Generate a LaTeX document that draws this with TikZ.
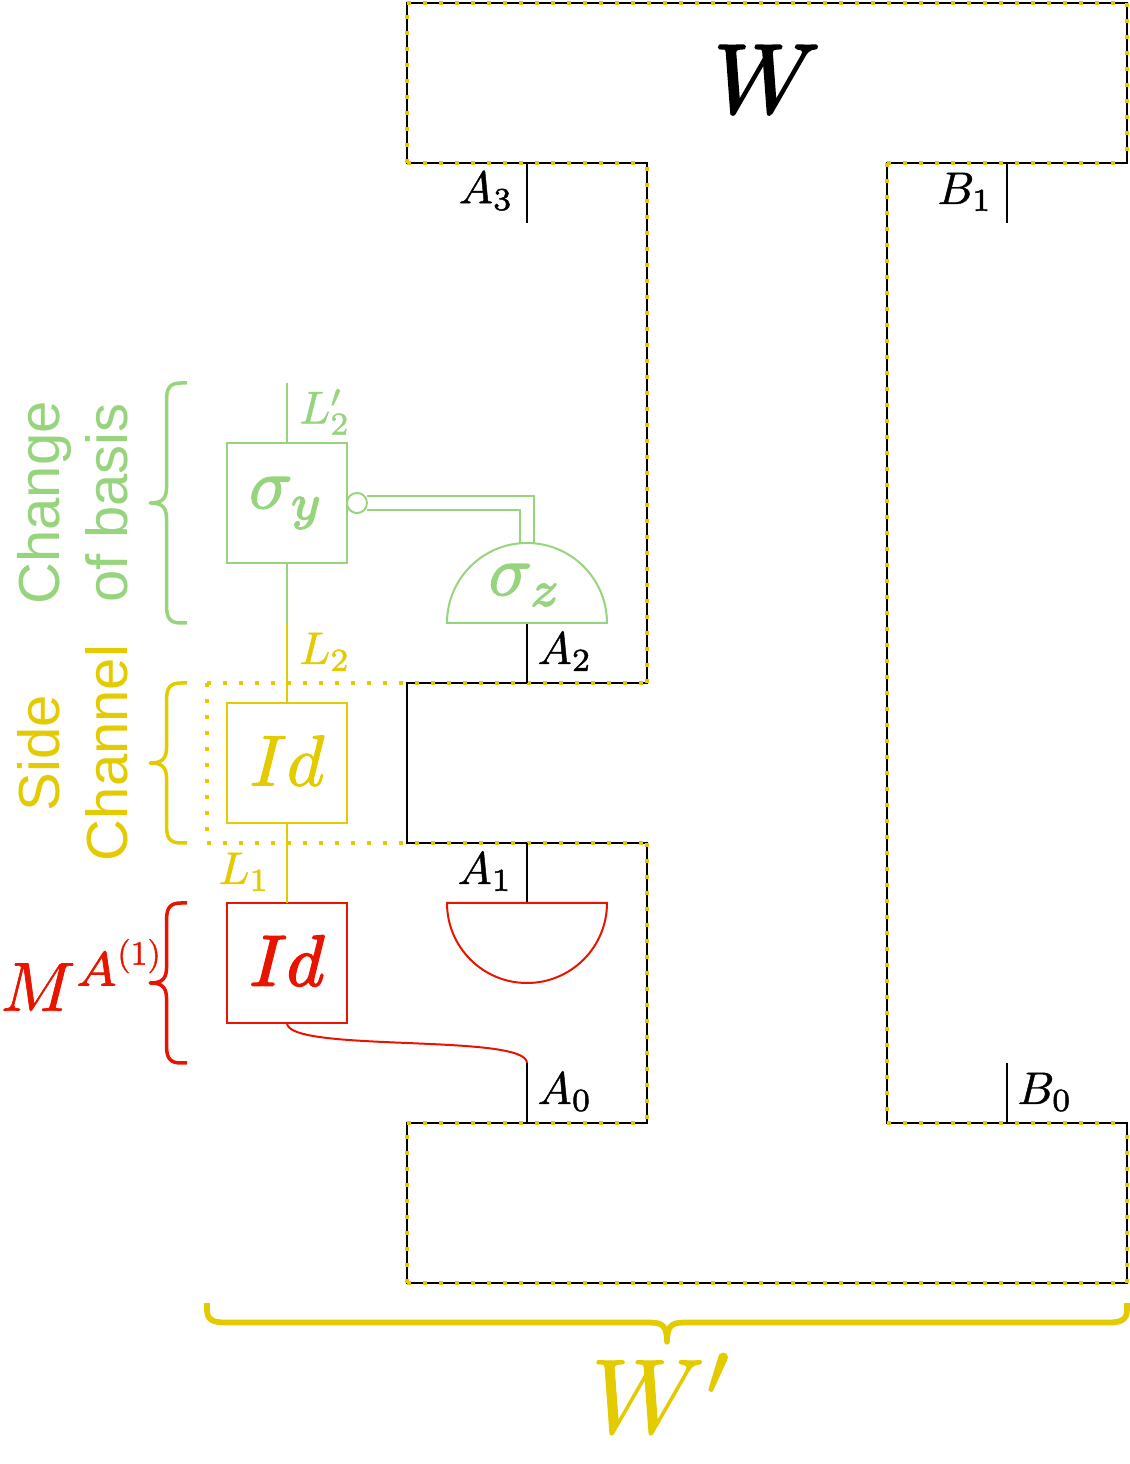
\documentclass[tikz,border=0pt]{standalone}
\usepackage{amsmath}
\usepackage{amssymb}
\usepackage{graphicx}
\usepackage[no-math]{fontspec}
\usepackage{xcolor}
\usepackage{tikz}
\usetikzlibrary{positioning,calc}
\newfontfamily\sidefont{Liberation Sans}
\definecolor{cbasis}{HTML}{97D47E}
\definecolor{cside}{HTML}{E3CB00}
\definecolor{cmeas}{HTML}{E81400}
% scaled formula, slightly stroked: [stroke] scale formula
\newcommand{\mtxt}[3][0.1]{\scalebox{#2}{\special{pdf:code q 2 Tr #1 w}$#3$\special{pdf:code Q}}}
% colour, middle, half height
\newcommand{\sidebrace}[3]{
  \draw[bracegrp,#1] (4.5,{#2-#3}) -- (4.35,{#2-#3}) .. controls (4.1,{#2-#3}) and (3.99,{#2-#3+0.1}) .. (3.99,{#2-#3+0.4})
    -- (3.99,{#2-0.42}) .. controls (3.99,{#2-0.12}) and (3.9,#2) .. (3.58,#2)
    .. controls (3.9,#2) and (3.99,{#2+0.12}) .. (3.99,{#2+0.42})
    -- (3.99,{#2+#3-0.4}) .. controls (3.99,{#2+#3-0.1}) and (4.1,{#2+#3}) .. (4.35,{#2+#3}) -- (4.5,{#2+#3});
}

\begin{document}
\begin{tikzpicture}[
  x=0.8cm,y=0.8cm,
  every node/.style={inner sep=0pt,outer sep=0pt},
  frameline/.style={draw=black,line width=0.04cm},
  dotline/.style={draw=cside,line width=0.08cm,dash pattern=on 0.08cm off 0.24cm},
  wire/.style={line width=0.04cm},
  gatebox/.style={draw,minimum size=2.4cm,line width=0.04cm},
  bracegrp/.style={line width=0.07cm,line join=round},
  sidetxt/.style={rotate=90,align=center,font=\sidefont\fontsize{33}{39}\selectfont}]
\useasboundingbox (-0.175,-4.525) rectangle (28.075,32.075);

% comb outline
\draw[frameline] (10,32) -- (28,32) -- (28,28) -- (22,28) -- (22,4) -- (28,4) -- (28,0) -- (10,0) -- (10,4)
  -- (16,4) -- (16,11) -- (10,11) -- (10,15) -- (16,15) -- (16,28) -- (10,28) -- cycle;
\draw[dotline] (10,28) -- (10,32) -- (28,32) -- (28,28) (10,28) -- (16,28) (16,15) -- (16,28)
  (22,28) -- (28,28) (22,28) -- (22,4) -- (28,4) (28,0) -- (28,4) (10,0) -- (28,0) (10,0) -- (10,4) -- (16,4)
  (16,11) -- (16,4) (5,15) -- (16,15) (5,15) -- (5,11) (5,11) -- (16,11);

% gates
\node[gatebox,draw=cbasis,text=cbasis] (sy) at (7,19.5) {\raisebox{-5.6pt}{\mtxt[0.18]{4.1}{\sigma_y}}};
\node[gatebox,draw=cside,text=cside,below=2.8cm of sy] (idy) {\raisebox{2.8pt}{\mtxt[0.14]{4.1}{Id}}};
\node[gatebox,draw=cmeas,text=cmeas,line width=0.05cm,below=1.6cm of idy] (idr) {\raisebox{2.8pt}{\mtxt[0.25]{4.1}{Id}}};
\node[draw=cbasis,line width=0.036cm,circle,fill=white,minimum size=0.4cm,right=0pt of sy] (sc) {};

% frame ports
\coordinate (a3f) at (13,28);  \coordinate (a3e) at (13,26.5);
\coordinate (b1f) at (25,28);  \coordinate (b1e) at (25,26.5);
\coordinate (a2f) at (13,15);  \coordinate (a2m) at (13,16.5);
\coordinate (a1f) at (13,11);  \coordinate (a1m) at (13,9.5);
\coordinate (a0f) at (13,4);   \coordinate (a0e) at (13,5.5);
\coordinate (b0f) at (25,4);   \coordinate (b0e) at (25,5.5);
\foreach \a/\b in {a3f/a3e,b1f/b1e,a2f/a2m,a1f/a1m,a0f/a0e,b0f/b0e}
  \draw[wire] (\a) -- (\b);

% measurements
\coordinate (mtop) at (13,18.5);
\draw[wire,cbasis,double=white,double distance=0.244cm,line width=0.036cm] (sc) -| (mtop);
\draw[wire,cbasis,fill=white] (11,16.5) arc[start angle=180,end angle=0,radius=1.6cm] -- cycle;
\draw[wire,cmeas] (11,9.5) arc[start angle=180,end angle=360,radius=1.6cm] -- cycle;
\node[draw=cbasis,line width=0.036cm,circle,fill=white,minimum size=0.4cm] (scb) at (sc) {};

% side wires
\coordinate (l2top) at (7,22.5);
\coordinate (l2mid) at (7,16.5);
\draw[wire,cbasis] (l2top) -- (sy);
\draw[wire,cbasis] (sy) -- (l2mid);
\draw[wire,cside] (l2mid) -- (idy);
\draw[wire,cside] (idy) -- (idr);
\draw[wire,cmeas] (idr.south) .. controls ($(idr.south)+(0,-0.75)$) and ($(a0e)+(0,0.75)$) .. (a0e);

% labels
\node (lw) at (19,30.1) {\mtxt[0.22]{5.6}{W}};
\node (la3) at (11.98,27.3) {\mtxt{2.6}{A_3}};
\node (la2) at (13.95,15.78) {\mtxt{2.6}{A_2}};
\node (la1) at (11.95,10.28) {\mtxt{2.6}{A_1}};
\node (la0) at (13.95,4.78) {\mtxt{2.6}{A_0}};
\node (lb1) at (23.95,27.28) {\mtxt{2.6}{B_1}};
\node (lb0) at (25.95,4.78) {\mtxt{2.6}{B_0}};
\node[cbasis] (ll2p) at (7.95,21.78) {\mtxt{2.6}{L_2'}};
\node[cside] (ll2) at (7.95,15.78) {\mtxt{2.6}{L_2}};
\node[cside] (ll1) at (5.93,10.28) {\mtxt{2.6}{L_1}};
\node[cbasis] (lsz) at (12.97,17.45) {\mtxt[0.18]{4.1}{\sigma_z}};

% group braces
\sidebrace{cbasis}{19.5}{3}
\sidebrace{cside}{13}{2}
\sidebrace{cmeas}{7.5}{2}
\draw[bracegrp,cside,line width=0.115cm] (5,-0.5) -- (5,-0.65) .. controls (5,-0.9) and (5.1,-0.99) .. (5.5,-0.99)
  -- (16.1,-0.99) .. controls (16.4,-0.99) and (16.5,-1.1) .. (16.5,-1.47)
  .. controls (16.5,-1.1) and (16.6,-0.99) .. (16.9,-0.99)
  -- (27.5,-0.99) .. controls (27.9,-0.99) and (28,-0.9) .. (28,-0.65) -- (28,-0.5);

\node[sidetxt,cbasis] (tbasis) at (1.65,19.5) {Change\\of basis};
\node[sidetxt,cside] (tside) at (1.65,13.25) {Side\\Channel};
\node[cmeas] (tmeas) at (1.93,7.7) {\mtxt{3.95}{M^{A^{\scalebox{0.49}{$\displaystyle(1)$}}}}};
\node[cside] (twp) at (16.4,-2.75) {\mtxt{6}{W'}};
\end{tikzpicture}
\end{document}
